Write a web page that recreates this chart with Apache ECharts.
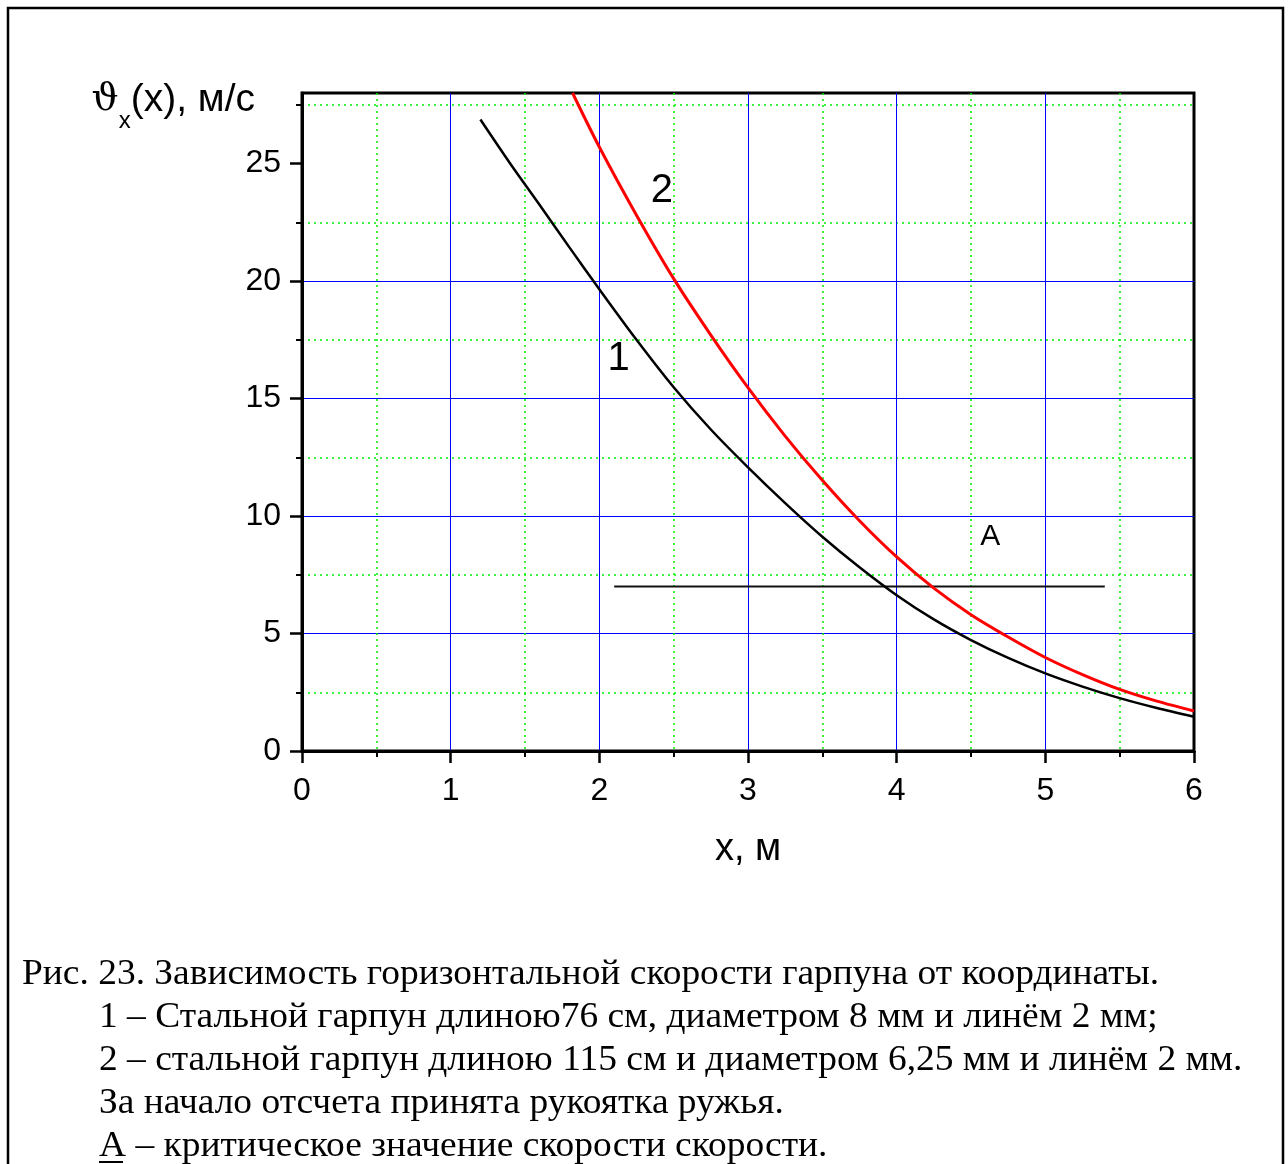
<!DOCTYPE html>
<html>
<head>
<meta charset="utf-8">
<script src="https://cdn.jsdelivr.net/npm/echarts@6/dist/echarts.min.js"></script>
<style>
html,body{margin:0;padding:0;background:#fff;}
#chart{width:1288px;height:1164px;}
</style>
</head>
<body>
<div id="chart"></div>
<script>
// curve 1: steel harpoon 76 cm, d = 8 mm
const curve1 = [
  [1.2, 26.87], [1.4, 25.0], [1.6, 23.22], [1.8, 21.42], [2.0, 19.65],
  [2.25, 17.5], [2.5, 15.48], [2.75, 13.68], [3.0, 12.07], [3.25, 10.55],
  [3.5, 9.12], [3.75, 7.82], [4.0, 6.63], [4.25, 5.6], [4.5, 4.72],
  [4.75, 3.96], [5.0, 3.30], [5.25, 2.74], [5.5, 2.25], [5.75, 1.83], [6.0, 1.46]
];
// curve 2: steel harpoon 115 cm, d = 6.25 mm
const curve2 = [
  [1.82, 28.0], [2.0, 25.7], [2.25, 22.8], [2.5, 20.1], [2.75, 17.7],
  [3.0, 15.46], [3.25, 13.4], [3.5, 11.52], [3.75, 9.8], [4.0, 8.26],
  [4.25, 6.93], [4.5, 5.8], [4.75, 4.85], [5.0, 3.98], [5.25, 3.25],
  [5.5, 2.62], [5.75, 2.12], [6.0, 1.70]
];
// A: critical speed level
const lineA = [[2.1, 7.0], [5.4, 7.0]];
const curveTags = [[2.13, 16.7, "1"], [2.42, 23.85, "2"]];
const tagA = [[4.63, 9.1, "A"]];

const xMin = 0, xMax = 6, xStep = 1;
const yMin = 0, yMax = 28, yStep = 5;
const yTickValues = [0, 5, 10, 15, 20, 25];

const captionLines = [
  "Рис. 23. Зависимость горизонтальной скорости гарпуна от координаты.",
  "1 – Стальной гарпун длиною76 см, диаметром 8 мм и линём 2 мм;",
  "2 – стальной гарпун длиною 115 см и диаметром 6,25 мм и линём 2 мм.",
  "За начало отсчета принята рукоятка ружья.",
  "A – критическое значение скорости скорости."
];

const SANS = "'Liberation Sans', Arial, sans-serif";
const SERIF = "'Liberation Serif', 'Times New Roman', serif";

const chart = echarts.init(document.getElementById("chart"), null, { renderer: "canvas" });

const captionGraphics = captionLines.map((txt, i) => ({
  type: "text",
  x: i === 0 ? 22 : 99,
  y: 975 + i * 43,
  scaleX: 1.04,
  style: {
    text: txt,
    font: "36px " + SERIF,
    fill: "#000",
    verticalAlign: "middle"
  }
}));

function axisCommon(){
  return {
    axisLine: { show: true, lineStyle: { color: "#000", width: 3 } },
    axisTick: { show: true, inside: false, length: 12, lineStyle: { color: "#000", width: 2.5 } },
    minorTick: { show: true, splitNumber: 2, length: 6, lineStyle: { color: "#000", width: 2 } },
    splitLine: { show: true, showMinLine: false, showMaxLine: false, lineStyle: { color: "#0000ff", width: 1 } },
    minorSplitLine: { show: true, lineStyle: { color: "#00ee00", width: 1.5, type: [2, 4] } }
  };
}

const tagLabel = (size) => ({
  show: true, position: "inside",
  formatter: (p) => p.value[2],
  color: "#000", opacity: 1, fontSize: size, fontFamily: SANS
});

chart.setOption({
  animation: false,
  backgroundColor: "#fff",
  grid: {
    left: 302, top: 93, right: 94, bottom: 413,
    show: true, borderColor: "#000", borderWidth: 3,
    outerBoundsMode: "none"
  },
  xAxis: Object.assign(axisCommon(), {
    type: "value",
    min: xMin, max: xMax, interval: xStep,
    axisLabel: { color: "#000", fontSize: 32, fontFamily: SANS, margin: 24 },
    name: "x, м",
    nameLocation: "middle",
    nameGap: 99,
    nameMoveOverlap: false,
    nameTextStyle: { color: "#000", fontSize: 38, fontFamily: SANS, verticalAlign: "middle" }
  }),
  yAxis: Object.assign(axisCommon(), {
    type: "value",
    min: yMin, max: yMax, interval: yStep,
    axisTick: { show: true, inside: false, length: 12, customValues: yTickValues, lineStyle: { color: "#000", width: 2.5 } },
    axisLabel: { color: "#000", fontSize: 32, fontFamily: SANS, margin: 21, customValues: yTickValues },
    name: "{t|ϑ}{s|x}{n|(x), м/с}",
    nameLocation: "end",
    nameGap: -9,
    nameMoveOverlap: false,
    nameTextStyle: {
      align: "right",
      verticalAlign: "middle",
      padding: [0, 47, 0, 0],
      rich: {
        t: { fontFamily: "'DejaVu Serif', serif", fontSize: 38, color: "#000", lineHeight: 42, verticalAlign: "top" },
        s: { fontFamily: SANS, fontSize: 24, color: "#000", lineHeight: 24, verticalAlign: "top", padding: [28, 0, 0, 0] },
        n: { fontFamily: SANS, fontSize: 39, color: "#000", lineHeight: 42, verticalAlign: "top" }
      }
    }
  }),
  graphic: [
    {
      type: "rect",
      shape: { x: 8, y: 8, width: 1275, height: 1220 },
      style: { fill: "none", stroke: "#000", lineWidth: 2.5 },
      silent: true
    },
    {
      type: "line",
      shape: { x1: 99, y1: 1162, x2: 123, y2: 1162 },
      style: { stroke: "#000", lineWidth: 2 }
    }
  ].concat(captionGraphics),
  series: [
    {
      name: "1",
      type: "line",
      data: curve1,
      smooth: 0.3,
      showSymbol: false,
      lineStyle: { color: "#000", width: 2.5 },
      z: 3
    },
    {
      name: "2",
      type: "line",
      data: curve2,
      smooth: 0.3,
      showSymbol: false,
      lineStyle: { color: "#ff0000", width: 3 },
      z: 4
    },
    {
      name: "A",
      type: "line",
      data: lineA,
      showSymbol: false,
      lineStyle: { color: "#111", width: 2 },
      z: 2
    },
    {
      name: "tags",
      type: "scatter",
      data: curveTags,
      symbolSize: 0,
      itemStyle: { color: "#000", opacity: 1 },
      label: tagLabel(40),
      z: 5
    },
    {
      name: "tagA",
      type: "scatter",
      data: tagA,
      symbolSize: 0,
      itemStyle: { color: "#000", opacity: 1 },
      label: tagLabel(30),
      z: 5
    }
  ]
});
</script>
</body>
</html>
